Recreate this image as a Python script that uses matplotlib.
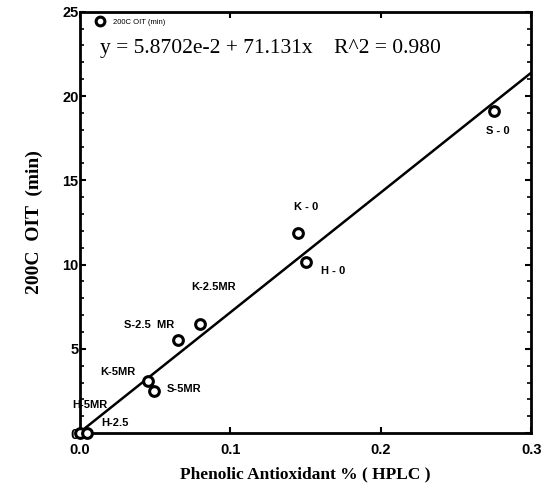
import matplotlib
matplotlib.use("Agg")
import matplotlib.pyplot as plt
import numpy as np

# dati
x_hplc = [0.0, 0.005, 0.045, 0.049, 0.065, 0.080, 0.145, 0.150, 0.275]
y_oit = [0.0, 0.0, 3.1, 2.5, 5.5, 6.5, 11.9, 10.15, 19.1]

labels = ["H-5MR", "H-2.5", "K-5MR", "S-5MR", "S-2.5  MR", "K-2.5MR", "K - 0", "H - 0", "S - 0"]
label_x = [0.0066, 0.023, 0.025, 0.069, 0.046, 0.089, 0.150, 0.168, 0.2776]
label_y = [1.66, 0.6, 3.6, 2.6, 6.4, 8.7, 13.4, 9.6, 17.9]

b0 = 5.8702e-2
b1 = 71.131

fig = plt.figure(figsize=(5.44, 4.9), dpi=100)
ax = fig.add_axes([0.147, 0.116, 0.83, 0.86])

xf = np.array([0.0, 0.3])
ax.plot(xf, b0 + b1 * xf, color="black", lw=1.8)
ax.plot(x_hplc, y_oit, "o", ms=7, mfc="white", mec="black", mew=2.2,
        label="200C OIT (min)", clip_on=False, zorder=5)

for t, lx, ly in zip(labels, label_x, label_y):
    ax.text(lx, ly, t, fontsize=8, fontweight="bold", family="Liberation Sans",
            ha="center", va="center")

ax.text(0.044, 0.914, "y = 5.8702e-2 + 71.131x    R^2 = 0.980", transform=ax.transAxes,
        fontsize=15.5, family="Liberation Serif", va="center", ha="left")

leg = ax.legend(loc="upper left", bbox_to_anchor=(0.02, 1.0), frameon=False,
                prop={"family": "Liberation Sans", "size": 5.5}, handletextpad=1.2,
                handlelength=1.0, markerscale=0.9)

ax.set_xlim(0, 0.3)
ax.set_ylim(0, 25)
ax.set_xticks([0.0, 0.1, 0.2, 0.3])
ax.set_xticklabels(["0.0", "0.1", "0.2", "0.3"])
ax.set_yticks([0, 5, 10, 15, 20, 25])
ax.set_yticks(np.arange(0, 26, 1), minor=True)
ax.tick_params(direction="in", top=True, right=True, width=1.5, length=4, pad=1)
ax.tick_params(axis="x", pad=7)
ax.tick_params(which="minor", direction="in", right=True, width=1.2, length=3)
for lab in ax.get_xticklabels() + ax.get_yticklabels():
    lab.set_fontweight("bold")
    lab.set_family("Liberation Sans")
    lab.set_fontsize(10.5)
for s in ax.spines.values():
    s.set_linewidth(2)

ax.set_xlabel("Phenolic Antioxidant % ( HPLC )", fontsize=12.5, fontweight="bold",
              family="Liberation Serif", labelpad=7)
ax.set_ylabel("200C  OIT  (min)", fontsize=14, fontweight="bold",
              family="Liberation Serif", labelpad=14)

fig.savefig("out.png", dpi=100)
